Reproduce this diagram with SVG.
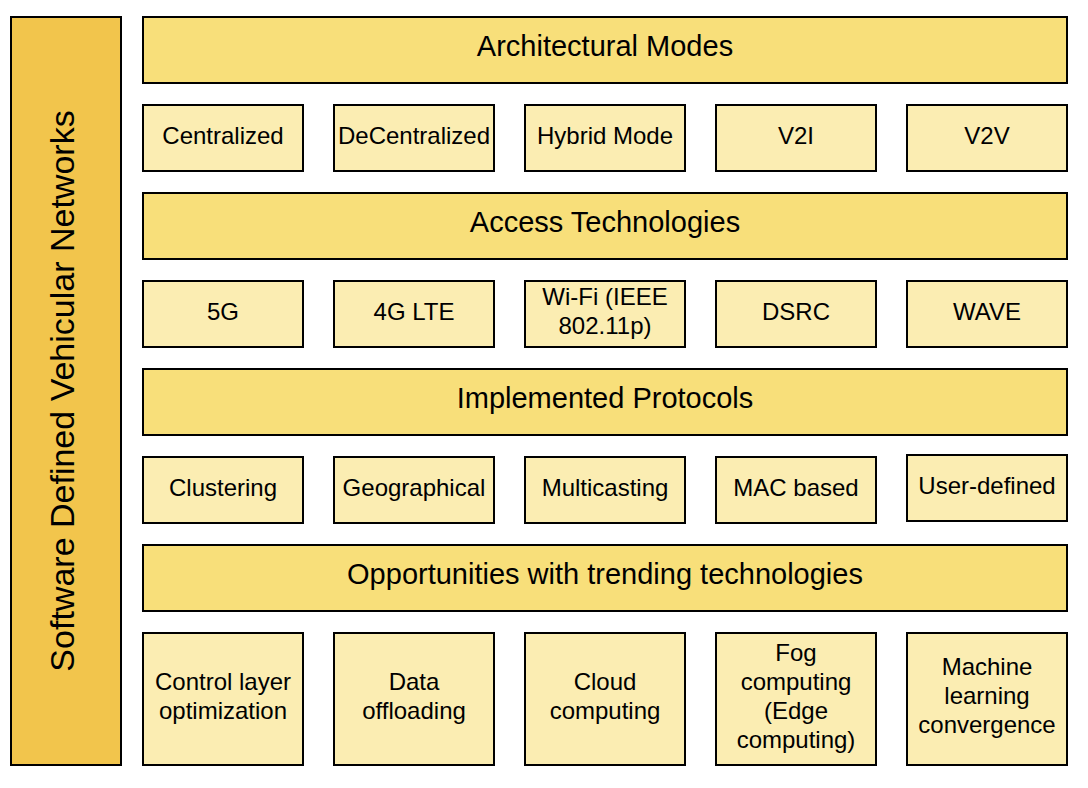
<svg xmlns="http://www.w3.org/2000/svg" width="1088" height="788" viewBox="0 0 1088 788">
<style>
text{font-family:"Liberation Sans",Arial,sans-serif;fill:#000;text-anchor:middle}
.side{fill:#f2c54c;stroke:#000;stroke-width:2}
.head{fill:#f8df7a;stroke:#000;stroke-width:2}
.item{fill:#fbedb2;stroke:#000;stroke-width:2}
.h{font-size:29px}
.s{font-size:34px}
.t{font-size:24px}
</style>
<rect width="1088" height="788" fill="#fff"/>
<g id="sdvn"><rect class="side" x="11" y="17" width="110" height="748"/><text class="s" transform="translate(74,391) rotate(-90)">Software Defined Vehicular Networks</text></g>
<g id="architectural-modes"><rect class="head" x="143" y="17" width="924" height="66"/><text class="h" x="605" y="56">Architectural Modes</text></g>
<g id="centralized"><rect class="item" x="143" y="105" width="160" height="66"/><text class="t" x="223" y="144">Centralized</text></g>
<g id="decentralized"><rect class="item" x="334" y="105" width="160" height="66"/><text class="t" x="414" y="144">DeCentralized</text></g>
<g id="hybrid"><rect class="item" x="525" y="105" width="160" height="66"/><text class="t" x="605" y="144">Hybrid Mode</text></g>
<g id="v2i"><rect class="item" x="716" y="105" width="160" height="66"/><text class="t" x="796" y="144">V2I</text></g>
<g id="v2v"><rect class="item" x="907" y="105" width="160" height="66"/><text class="t" x="987" y="144">V2V</text></g>
<g id="access-technologies"><rect class="head" x="143" y="193" width="924" height="66"/><text class="h" x="605" y="232">Access Technologies</text></g>
<g id="g5"><rect class="item" x="143" y="281" width="160" height="66"/><text class="t" x="223" y="320">5G</text></g>
<g id="g4lte"><rect class="item" x="334" y="281" width="160" height="66"/><text class="t" x="414" y="320">4G LTE</text></g>
<g id="wifi"><rect class="item" x="525" y="281" width="160" height="66"/><text class="t" x="605" y="305">Wi-Fi (IEEE</text><text class="t" x="605" y="334">802.11p)</text></g>
<g id="dsrc"><rect class="item" x="716" y="281" width="160" height="66"/><text class="t" x="796" y="320">DSRC</text></g>
<g id="wave"><rect class="item" x="907" y="281" width="160" height="66"/><text class="t" x="987" y="320">WAVE</text></g>
<g id="implemented-protocols"><rect class="head" x="143" y="369" width="924" height="66"/><text class="h" x="605" y="408">Implemented Protocols</text></g>
<g id="clustering"><rect class="item" x="143" y="457" width="160" height="66"/><text class="t" x="223" y="496">Clustering</text></g>
<g id="geographical"><rect class="item" x="334" y="457" width="160" height="66"/><text class="t" x="414" y="496">Geographical</text></g>
<g id="multicasting"><rect class="item" x="525" y="457" width="160" height="66"/><text class="t" x="605" y="496">Multicasting</text></g>
<g id="mac-based"><rect class="item" x="716" y="457" width="160" height="66"/><text class="t" x="796" y="496">MAC based</text></g>
<g id="user-defined"><rect class="item" x="907" y="455" width="160" height="66"/><text class="t" x="987" y="494">User-defined</text></g>
<g id="opportunities"><rect class="head" x="143" y="545" width="924" height="66"/><text class="h" x="605" y="584">Opportunities with trending technologies</text></g>
<g id="control-layer"><rect class="item" x="143" y="633" width="160" height="132"/><text class="t" x="223" y="690">Control layer</text><text class="t" x="223" y="719">optimization</text></g>
<g id="data-offloading"><rect class="item" x="334" y="633" width="160" height="132"/><text class="t" x="414" y="690">Data</text><text class="t" x="414" y="719">offloading</text></g>
<g id="cloud"><rect class="item" x="525" y="633" width="160" height="132"/><text class="t" x="605" y="690">Cloud</text><text class="t" x="605" y="719">computing</text></g>
<g id="fog"><rect class="item" x="716" y="633" width="160" height="132"/><text class="t" x="796" y="661">Fog</text><text class="t" x="796" y="690">computing</text><text class="t" x="796" y="719">(Edge</text><text class="t" x="796" y="748">computing)</text></g>
<g id="ml"><rect class="item" x="907" y="633" width="160" height="132"/><text class="t" x="987" y="675">Machine</text><text class="t" x="987" y="704">learning</text><text class="t" x="987" y="733">convergence</text></g>
<g id="connectors"></g>
</svg>
